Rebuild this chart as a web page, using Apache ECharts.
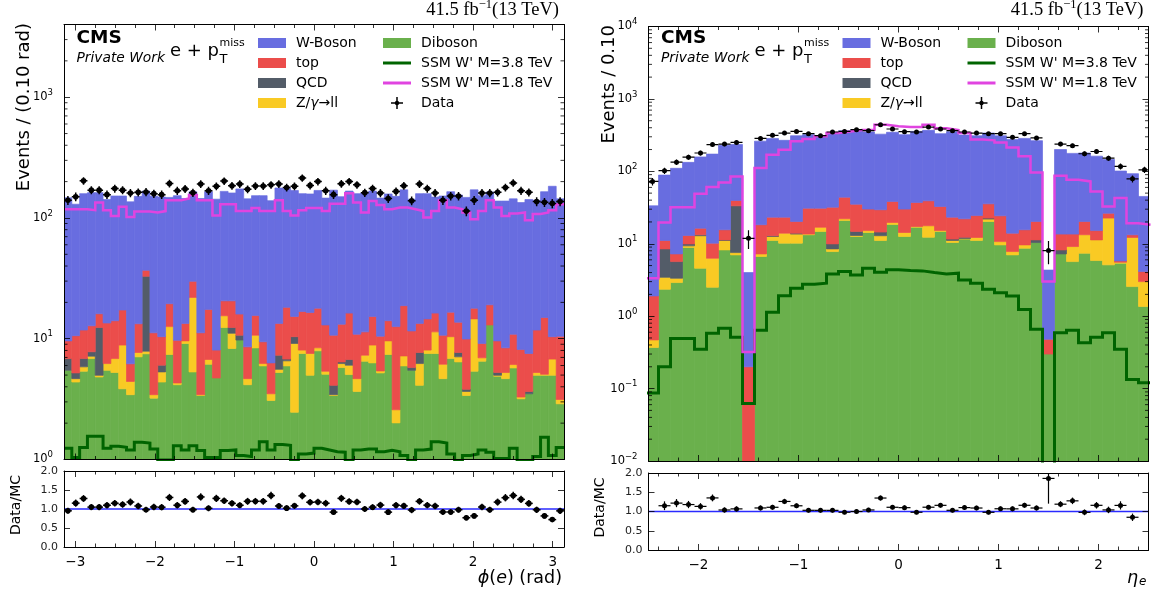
<!DOCTYPE html>
<html>
<head>
<meta charset="utf-8">
<script src="https://cdn.jsdelivr.net/npm/echarts@6/dist/echarts.min.js"></script>
<style>
  html, body { margin: 0; padding: 0; background: #fff; }
  #chart { width: 1161px; height: 595px; }
</style>
</head>
<body>
<div id="chart"></div>
<script>
// ---------------------------------------------------------------------------
// Electron phi distribution: 64 bins spanning [-pi, pi]
// ---------------------------------------------------------------------------
const phiData = [140,150,203,170,170,156,175,170,161,163, 164,159,156,193,168,174,162,191,168,183,
  202,185,191,173,184,184,188,191,179,183, 214,186,200,168,156,192,200,188,162,175,
  161,145,166,185,139,191,175,161,140,152, 152,114,140,161,161,163,179,195,168,163,
  137,135,132,137];
const phiWBoson = [137.4,119.4,147.2,149.2,145.9,128.5,137.9,134.7,129.8,137.7, 130.1,139.8,138.6,128.5,143.3,131.6,135.1,133.8,147.5,135.0,
  145.4,140.4,158.0,135.4,137.4,143.6,132.7,163.6,156.8,153.7, 142.2,141.5,151.1,133.0,159.3,136.8,150.7,148.1,150.6,151.7,
  135.5,143.9,138.4,152.2,131.4,145.6,144.4,132.7,141.3,148.4, 141.3,138.1,153.1,143.9,144.9,128.4,129.6,133.1,125.9,134.5,
  128.2,150.0,172.6,133.5];
const phiTop = [2.75,5.39,4.95,5.0,3.7,7.27,7.25,8.44,1.77,5.61, 4.0,7.76,4.36,6.9,5.4,3.8,7.9,7.76,10.77,3.32,
  5.1,8.2,5.3,3.9,4.9,3.21,2.81,6.09,11.42,4.9, 8.75,8.95,9.49,7.62,6.59,6.77,9.57,6.23,4.09,6.44,
  5.09,4.5,10.02,11.6,5.83,5.71,6.55,4.9,4.55,6.2, 6.01,6.13,3.3,2.19,6.1,4.35,3.16,4.79,4.86,3.89,
  6.55,9.92,3.62,7.36];
const phiQCD = [1.37,0.54,1.0,0.63,7.42,0,0,0,0,0, 25.0,0,0.73,0,0,0,0,0,0,0,
  0,1.3,0.95,0,0,0,0,1.73,0.22,1.26, 0,0,0,0,0.67,0.2,0.69,0,0,0,
  0,0,0,0,0.29,1.46,0,0,0,0, 0.61,0.15,0,0,0,0.27,0,0,0,0.16,
  0,0,0,0];
const phiDY = [0,0.29,0.47,0.32,0.16,0.75,1.6,5.01,0.99,0.61, 0.39,0.22,0.93,5.2,0.14,0.46,16.69,0.05,0.58,0,
  3.1,2.8,0,0.51,2.3,0.27,0.42,0.33,0.6,6.68, 0.5,2.57,0.47,0.3,0.05,0.46,0.99,1.01,0.8,2.55,
  0.2,2.2,0.57,1.24,0,2.12,0.5,3.85,1.48,3.55, 0.65,0.27,9.22,0.44,0,0.09,0.58,0.38,0.11,0,
  0.27,0.1,1.8,0.25];
const phiDiboson = [5.48,4.38,5.38,6.85,4.82,5.48,5.25,3.85,3.44,7.08, 7.5,3.22,4.38,7.4,4.16,9.14,5.31,3.39,6.15,4.73,
  12.4,8.3,9.75,4.16,8.4,5.96,3.08,5.25,5.96,2.46, 7.55,4.98,7.94,5.08,3.39,5.77,5.05,3.66,6.51,6.31,
  5.21,7.4,2.01,5.96,5.48,4.11,7.55,7.55,4.67,6.85, 6.43,3.39,5.38,6.51,13.0,4.89,4.67,5.73,3.18,3.5,
  4.98,4.98,4.98,2.89];
const phiSSM18 = [118,118,118,116,134,116,104,124,102,113, 113,111,114,140,140,145,155,140,140,105,
  130,130,114,114,121,114,114,140,114,105, 116,121,121,114,131,131,160,134,111,138,
  128,118,122,122,118,114,101,114,140,122, 118,111,97.5,114,140,122,104,109,111,95.7,
  108,111,116,130];
const phiSSM38 = [1.24,1.04,1.26,1.56,1.56,1.24,1.29,1.26,1.2,1.39, 1.37,1.22,0.99,0.99,1.3,1.2,1.3,1.19,1.04,1.04,
  1.19,1.2,1.08,1.06,1.2,1.4,1.2,1.33,1.31,0.98, 1.11,1.13,1.24,1.2,1.16,1.15,0.98,1.2,1.22,1.22,
  1.16,1.19,1.16,1.08,0.98,1.2,1.22,1.4,1.37,1.11, 0.98,1.08,1.11,1.2,1.15,1.02,1.02,1.24,0.98,0.98,
  1.06,1.53,1.08,1.26];

// ---------------------------------------------------------------------------
// Electron eta distribution: 42 bins of width 0.12 starting at -2.52
// ---------------------------------------------------------------------------
const etaData = [72.5,102,134,157,179,234,238,251,11.9,285, 314,338,356,331,311,349,356,376,364,440,
  384,353,349,409,384,364,349,338,331,331, 295,331,289,8.05,238,226,175,188,152,117,
  78.9,105];
const etaWBoson = [31.5,77.6,102.8,120,141.6,162.8,213.4,195.4,3.8,242.7, 259.7,244.7,289.7,290,271,307,319,340.8,319.9,296.5,
  307.6,290.9,318.8,328.8,298.3,329.7,294.9,285.5,302.4,284.7, 262,269.4,244.7,3.85,186.4,163.4,158.7,146.8,119.6,95.2,
  79.5,40.9];
const etaTop = [1.43,2.61,1.57,3.04,3.1,3.89,4.3,6.2,0.2,11.06, 10.4,9.3,6.3,17.4,14.1,22.04,21.9,20.4,14.9,15.0,
  18.7,15.8,19.9,21.5,17.5,11.7,9.8,12.3,13.0,13.6, 6.2,5.96,9.0,0.18,5.38,4.45,7.0,3.9,3.8,0.24,
  1.1,1.13];
const etaQCD = [0,5.05,2.33,0.61,0.4,0,0.2,25.85,0,0, 0.3,0,0.4,0,0,1.47,0,1.8,0,1.6,
  0,0,0,0,0,0.5,0.5,0,0.7,0, 0,0,0.9,0,0.98,0,0,0,0,0,
  0,0];
const etaDY = [0.1,1.09,0.43,0.48,8.31,3.8,2.88,0.53,0,0.58, 1.5,3.8,3.4,0.3,2.1,0.69,1.1,0.4,0.9,1.8,
  1.2,1.7,0.4,5.4,0.4,0.7,0.2,1.1,1.6,1.06, 0.78,0.97,0,0,0,3.48,5.9,5.44,17.49,0.18,
  9.64,1.64];
const etaDiboson = [0.37,2.35,2.91,8.87,4.59,2.51,8.22,7.02,0,6.66, 11.1,10.2,10.2,13.3,14.8,7.8,21.0,12.6,14.3,11.1,
  18.5,12.6,16.9,12.3,14.8,10.4,11.6,11.1,20.3,9.64, 7.02,8.67,10.4,0.3,7.24,5.67,7.4,5.86,5.11,5.38,
  2.56,1.36];
const etaSSM18 = [3.34,19.7,32.0,32.0,48.9,60.6,70.2,85.1,0.32,111, 169,199,260,279,304,338,356,371,376,440,
  418,409,409,440,392,371,338,276,268,251, 214,161,96.6,3.0,86.9,76.4,72.5,52.7,32.7,42.7,
  19.2,18.3];
const etaSSM38 = [0.087,0.2,0.49,0.49,0.35,0.58,0.68,0.51,0.062,0.64, 1.13,1.92,2.43,2.76,2.85,3.83,4.13,3.71,4.59,4.04,
  4.36,4.26,4.22,4.0,3.83,3.92,3.16,2.85,2.35,2.11, 1.9,1.24,0.66,0,0.59,0.64,0.43,0.51,0.59,0.35,
  0.134,0.12];

// Labels
const stackNames = ['Diboson', 'Z/γ→ll', 'QCD', 'top', 'W-Boson'];   // bottom to top
const ssmNames = ["SSM W' M=3.8 TeV", "SSM W' M=1.8 TeV"];
const legendCol1 = ['W-Boson', 'top', 'QCD', 'Z/γ→ll'];
const legendCol2 = ['Diboson', ssmNames[0], ssmNames[1], 'Data'];
const lumiText = '41.5 fb{s|−1}(13 TeV)';

// ---------------------------------------------------------------------------
const FONT = "'DejaVu Sans', sans-serif";
const SERIF = "'Liberation Serif', 'DejaVu Serif', serif";
const COLOR = {
  'W-Boson': '#686de0', 'top': '#eb4d4b', 'QCD': '#535c68', 'Z/γ→ll': '#f9ca24', 'Diboson': '#6ab04c',
  [ssmNames[0]]: '#006400', [ssmNames[1]]: '#e044e0', 'Data': '#000'
};

function binEdges(lo, width, n) {
  const e = [];
  for (let i = 0; i <= n; i++) e.push(lo + i * width);
  return e;
}

const PANELS = [
  {
    edges: binEdges(-Math.PI, 2 * Math.PI / 64, 64), xMin: -Math.PI, xMax: Math.PI,
    yMin: 1, yMax: 4000, minorSplit: 4,
    main: { left: 64, top: 24.5, width: 500, height: 435 },
    ratio: { left: 64, top: 471, width: 500, height: 76 },
    stack: [phiDiboson, phiDY, phiQCD, phiTop, phiWBoson],
    data: phiData, ssm: [phiSSM38, phiSSM18],
    yTitle: 'Events / (0.10 rad)', xTitle: '{i|ϕ}({i|e}) (rad)',
    markR: 2.8, barW: 1.5
  },
  {
    edges: binEdges(-2.52, 0.12, 42), xMin: -2.5, xMax: 2.5,
    yMin: 0.01, yMax: 10000, minorSplit: 5,
    main: { left: 648.5, top: 26.5, width: 500, height: 434.5 },
    ratio: { left: 648.5, top: 473, width: 500, height: 77 },
    stack: [etaDiboson, etaDY, etaQCD, etaTop, etaWBoson],
    data: etaData, ssm: [etaSSM38, etaSSM18],
    yTitle: 'Events / 0.10', xTitle: '{i|η}{sub|e}',
    markR: 2.5, barW: 1.2
  }
];

const grids = [], xAxes = [], yAxes = [], series = [], graphics = [];

const tickStyle = { color: '#000', width: 0.8 };
function xAxisCfg(gridIndex, position, P, labels) {
  return {
    type: 'value', gridIndex, position, min: P.xMin, max: P.xMax, z: 10,
    axisLine: { show: true, onZero: false, lineStyle: { color: '#000', width: 1 } },
    splitLine: { show: false },
    axisTick: { show: true, inside: true, length: 6, lineStyle: tickStyle },
    minorTick: { show: true, splitNumber: P.minorSplit, length: 3.5, lineStyle: tickStyle },
    axisLabel: {
      show: labels, margin: 8, fontSize: 13.5, fontFamily: FONT, color: '#000',
      formatter: v => Math.abs(v - Math.round(v)) > 1e-6 ? '' : (v < 0 ? '\u2212' : '') + Math.abs(Math.round(v))
    }
  };
}
function logAxisCfg(gridIndex, position, P, labels) {
  return {
    type: 'log', logBase: 10, gridIndex, position, min: P.yMin, max: P.yMax, z: 10,
    axisLine: { show: true, onZero: false, lineStyle: { color: '#000', width: 1 } },
    splitLine: { show: false },
    axisTick: { show: true, inside: true, length: 6, lineStyle: tickStyle },
    minorTick: { show: false },
    axisLabel: {
      show: labels, margin: 11, fontSize: 11.5, fontFamily: FONT, color: '#000',
      formatter: v => {
        const e = Math.log10(v);
        if (Math.abs(e - Math.round(e)) > 1e-6) return '';
        const k = Math.round(e);
        return '10{s|' + (k < 0 ? '\u2212' + (-k) : k) + '}';
      },
      rich: { s: { fontSize: 8.5, fontFamily: FONT, color: '#000', padding: [0, 0, 9, 0] } }
    }
  };
}
function ratioAxisCfg(gridIndex, position, labels) {
  return {
    type: 'value', gridIndex, position, min: 0, max: 2, interval: 0.5, z: 10,
    axisLine: { show: true, onZero: false, lineStyle: { color: '#000', width: 1 } },
    splitLine: { show: false },
    axisTick: { show: true, inside: true, length: 6, lineStyle: tickStyle },
    axisLabel: { show: labels, margin: 6, fontSize: 11, fontFamily: FONT, color: '#222', formatter: v => v.toFixed(1) }
  };
}

PANELS.forEach((P, p) => {
  const gMain = 2 * p, gRatio = 2 * p + 1;
  const xi = 4 * p, yi = 4 * p;
  grids.push(Object.assign({ show: false, containLabel: false }, P.main));
  grids.push(Object.assign({ show: false, containLabel: false }, P.ratio));
  xAxes.push(xAxisCfg(gMain, 'bottom', P, false), xAxisCfg(gMain, 'top', P, false),
             xAxisCfg(gRatio, 'bottom', P, true), xAxisCfg(gRatio, 'top', P, false));
  yAxes.push(logAxisCfg(gMain, 'left', P, true), logAxisCfg(gMain, 'right', P, false),
             ratioAxisCfg(gRatio, 'left', true), ratioAxisCfg(gRatio, 'right', false));

  const n = P.data.length;
  const total = new Array(n).fill(0);

  // Stacked backgrounds, one custom series per process
  P.stack.forEach((arr, k) => {
    const name = stackNames[k], color = COLOR[name];
    const items = [];
    arr.forEach((v, i) => {
      const lo = total[i];
      total[i] += v;
      if (v > 0) items.push([P.edges[i], P.edges[i + 1], lo, total[i]]);
    });
    series.push({
      type: 'custom', name, xAxisIndex: xi, yAxisIndex: yi, clip: true, silent: true, z: 2,
      encode: { x: [0, 1], y: 3 }, data: items,
      renderItem: (params, api) => {
        const x0 = Math.max(api.value(0), P.xMin), x1 = Math.min(api.value(1), P.xMax);
        const lo = Math.max(api.value(2), P.yMin), hi = api.value(3);
        if (!(hi > lo)) return null;
        const a = api.coord([x0, lo]), b = api.coord([x1, hi]);
        return {
          type: 'rect',
          shape: { x: a[0], y: b[1], width: b[0] - a[0], height: a[1] - b[1] },
          style: { fill: color, stroke: color, lineWidth: 0.7 }
        };
      }
    });
  });

  // Signal hypotheses drawn as step outlines
  P.ssm.forEach((arr, k) => {
    const pts = [];
    arr.forEach((v, i) => {
      const y = Math.max(v, 1e-5);
      pts.push([P.edges[i], y], [P.edges[i + 1], y]);
    });
    series.push({
      type: 'line', name: ssmNames[k], xAxisIndex: xi, yAxisIndex: yi, data: pts,
      showSymbol: false, symbol: 'none', clip: true, silent: true, z: 4,
      lineStyle: { color: COLOR[ssmNames[k]], width: k === 0 ? 3 : 2.5, join: 'miter' },
      itemStyle: { color: COLOR[ssmNames[k]] }
    });
  });

  // Data points with Poisson uncertainties, and the data / MC ratio
  const pointRender = (yLo, yHi) => (params, api) => {
    const e0 = api.value(0), e1 = api.value(1), y = api.value(2), s = api.value(3);
    if (!(y >= yLo && y <= yHi)) return null;
    const xc = (e0 + e1) / 2;
    const c = api.coord([xc, y]);
    const l = api.coord([Math.max(e0, P.xMin), y]), r = api.coord([Math.min(e1, P.xMax), y]);
    const t = api.coord([xc, Math.min(y + s, yHi)]), b = api.coord([xc, Math.max(y - s, yLo)]);
    return {
      type: 'group', children: [
        { type: 'line', shape: { x1: l[0], y1: c[1], x2: r[0], y2: c[1] }, style: { stroke: '#000', lineWidth: P.barW } },
        { type: 'line', shape: { x1: c[0], y1: t[1], x2: c[0], y2: b[1] }, style: { stroke: '#000', lineWidth: P.barW } },
        { type: 'circle', shape: { cx: c[0], cy: c[1], r: P.markR }, style: { fill: '#000' } }
      ]
    };
  };
  series.push({
    type: 'custom', name: 'Data', xAxisIndex: xi, yAxisIndex: yi, clip: true, silent: true, z: 6,
    encode: { x: [0, 1], y: 2 },
    data: P.data.map((d, i) => [P.edges[i], P.edges[i + 1], d, Math.sqrt(d)]),
    renderItem: pointRender(P.yMin, P.yMax)
  });

  series.push({
    type: 'line', name: 'unity', xAxisIndex: xi + 2, yAxisIndex: yi + 2,
    data: [[P.xMin, 1], [P.xMax, 1]], showSymbol: false, symbol: 'none', silent: true, z: 3,
    lineStyle: { color: '#2a2aff', width: 1.3 }
  });
  series.push({
    type: 'custom', name: 'ratio', xAxisIndex: xi + 2, yAxisIndex: yi + 2, clip: true, silent: true, z: 6,
    encode: { x: [0, 1], y: 2 },
    data: P.data.map((d, i) => [P.edges[i], P.edges[i + 1], d / total[i], Math.sqrt(d) / total[i]]),
    renderItem: pointRender(0, 2)
  });

  // Log-axis minor ticks (2..9 x 10^k) on both vertical edges
  const minorVals = [];
  for (let k = Math.floor(Math.log10(P.yMin)); k < Math.ceil(Math.log10(P.yMax)); k++) {
    for (let m = 2; m <= 9; m++) {
      const v = m * Math.pow(10, k);
      if (v > P.yMin && v < P.yMax) minorVals.push([P.xMin, v]);
    }
  }
  series.push({
    type: 'custom', name: 'minor', xAxisIndex: xi, yAxisIndex: yi, silent: true, z: 12,
    encode: { x: 0, y: 1 }, data: minorVals,
    renderItem: (params, api) => {
      const v = api.value(1);
      const a = api.coord([P.xMin, v]), b = api.coord([P.xMax, v]);
      return {
        type: 'group', children: [
          { type: 'line', shape: { x1: a[0], y1: a[1], x2: a[0] + 3.5, y2: a[1] }, style: { stroke: '#000', lineWidth: 0.8 } },
          { type: 'line', shape: { x1: b[0] - 3.5, y1: b[1], x2: b[0], y2: b[1] }, style: { stroke: '#000', lineWidth: 0.8 } }
        ]
      };
    }
  });

  // Annotations
  const L = P.main.left, R = P.main.left + P.main.width, T = P.main.top;
  const txt = (x, y, text, style, extra) => Object.assign({
    type: 'text', x, y, silent: true, z: 20,
    style: Object.assign({ text, fill: '#000', fontFamily: FONT, fontSize: 14,
      align: 'left', textAlign: 'left', verticalAlign: 'middle', textVerticalAlign: 'middle' }, style)
  }, extra || {});

  graphics.push(txt(L + 12.5, 38.5, 'CMS', { fontSize: 18.5, fontWeight: 'bold' }));
  graphics.push(txt(L + 12.5, 58.5, 'Private Work', { fontSize: 13.8, fontStyle: 'italic' }));
  graphics.push(txt(L + 106, 51, 'e + p', { fontSize: 18 }));
  graphics.push(txt(L + 155.5, 43, 'miss', { fontSize: 11 }));
  graphics.push(txt(L + 155.5, 60, 'T', { fontSize: 13 }));
  graphics.push(txt(R - 5, 10, lumiText, {
    fontFamily: SERIF, fontSize: 18.5, align: 'right', textAlign: 'right',
    rich: { s: { fontFamily: SERIF, fontSize: 12.5, fill: '#000', padding: [0, 0, 10, 0] } }
  }));
  graphics.push(txt(L - 39.5, T - 1.5, P.yTitle, { fontSize: 18, align: 'right', textAlign: 'right' }, { rotation: Math.PI / 2 }));
  graphics.push(txt(L - 48, P.ratio.top + P.ratio.height / 2 - 4, 'Data/MC',
    { fontSize: 14, align: 'center', textAlign: 'center' }, { rotation: Math.PI / 2 }));
  graphics.push(txt(R - 2, 578, P.xTitle, {
    fontSize: 17.5, align: 'right', textAlign: 'right',
    rich: {
      i: { fontFamily: FONT, fontSize: 17.5, fontStyle: 'italic', fill: '#000' },
      sub: { fontFamily: FONT, fontSize: 12, fontStyle: 'italic', fill: '#000', padding: [8, 0, 0, 1] }
    }
  }));

  // Legend, two columns
  [[L + 194, legendCol1], [L + 319, legendCol2]].forEach(([cx, names]) => {
    names.forEach((name, r) => {
      const y = 43 + 20 * r, color = COLOR[name];
      if (name === 'Data') {
        graphics.push({ type: 'line', silent: true, z: 20, shape: { x1: cx + 8, y1: y, x2: cx + 20, y2: y }, style: { stroke: '#000', lineWidth: 1.5 } });
        graphics.push({ type: 'line', silent: true, z: 20, shape: { x1: cx + 14, y1: y - 6, x2: cx + 14, y2: y + 6 }, style: { stroke: '#000', lineWidth: 1.5 } });
        graphics.push({ type: 'circle', silent: true, z: 20, shape: { cx: cx + 14, cy: y, r: 2.2 }, style: { fill: '#000' } });
      } else if (ssmNames.includes(name)) {
        graphics.push({ type: 'line', silent: true, z: 20, shape: { x1: cx, y1: y, x2: cx + 28, y2: y }, style: { stroke: color, lineWidth: 3 } });
      } else {
        graphics.push({ type: 'rect', silent: true, z: 20, shape: { x: cx, y: y - 5, width: 28, height: 10 }, style: { fill: color } });
      }
      const label = name === 'Z/γ→ll' ? 'Z/{i|γ}→ll' : name;
      graphics.push(txt(cx + 38, y, label, {
        fontSize: 14,
        rich: { i: { fontFamily: FONT, fontSize: 14, fontStyle: 'italic', fill: '#000' } }
      }));
    });
  });
});

const chart = echarts.init(document.getElementById('chart'), null, { renderer: 'canvas', width: 1161, height: 595 });
chart.setOption({
  animation: false,
  backgroundColor: '#fff',
  textStyle: { fontFamily: FONT },
  grid: grids,
  xAxis: xAxes,
  yAxis: yAxes,
  series: series,
  graphic: { elements: graphics }
});
</script>
</body>
</html>
